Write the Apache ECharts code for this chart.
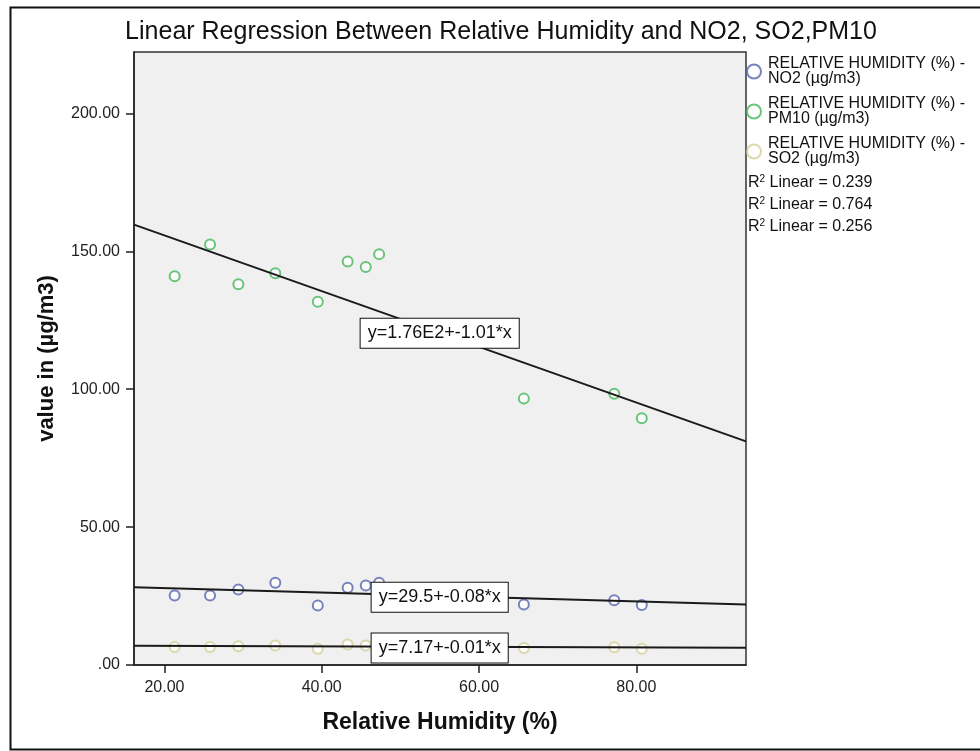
<!DOCTYPE html>
<html>
<head>
<meta charset="utf-8">
<script src="https://cdn.jsdelivr.net/npm/echarts@6/dist/echarts.min.js"></script>
<style>
  html, body { margin: 0; padding: 0; background: #ffffff; }
  #chart { width: 980px; height: 751px; }
</style>
</head>
<body>
<div id="chart"></div>
<script>
// Relative humidity (%) for each sampling day
const humidity = [21.3, 25.8, 29.4, 34.1, 39.5, 43.3, 45.6, 47.3, 65.7, 77.2, 80.7];
// Pollutant concentrations (µg/m3)
const no2  = [25.2, 25.2, 27.4, 29.8, 21.6, 28.0, 28.8, 29.8, 21.9, 23.5, 21.8];
const pm10 = [141.0, 152.5, 138.1, 142.1, 131.7, 146.3, 144.3, 149.0, 96.6, 98.4, 89.5];
const so2  = [6.5, 6.5, 6.8, 7.1, 5.9, 7.4, 7.1, 7.3, 6.2, 6.4, 5.9];

// Fitted linear models: [intercept, slope, label, R²]
const fitNO2  = [29.5, -0.08, 'y=29.5+-0.08*x', 0.239];
const fitPM10 = [176, -1.01, 'y=1.76E2+-1.01*x', 0.764];
const fitSO2  = [7.17, -0.01, 'y=7.17+-0.01*x', 0.256];

// Axis ticks
const xTicks = [20, 40, 60, 80];
const xTickLabels = ['20.00', '40.00', '60.00', '80.00'];
const yTicks = [0, 50, 100, 150, 200];
const yTickLabels = ['.00', '50.00', '100.00', '150.00', '200.00'];

const X_MIN = 16.13, X_MAX = 93.95, Y_MIN = 0, Y_MAX = 222.3;
const FONT = "'Liberation Sans', Arial, sans-serif";

const colors = { NO2: '#5864b0', PM10: '#45b85a', SO2: '#d3ce97' };

function pairs(xs, ys) { return xs.map((x, i) => [x, ys[i]]); }
function fitLine(fit) { return [[X_MIN, fit[0] + fit[1] * X_MIN], [X_MAX, fit[0] + fit[1] * X_MAX]]; }

const labelBox = {
  show: true, position: 'inside', color: '#111', fontFamily: FONT, fontSize: 18,
  backgroundColor: '#ffffff', borderColor: '#111', borderWidth: 1, padding: [6, 7, 5, 7]
};

function scatter(name, ys) {
  return {
    name, type: 'scatter', data: pairs(humidity, ys), symbol: 'emptyCircle', symbolSize: 10,
    itemStyle: { color: colors[name], borderColor: colors[name], borderWidth: 1.5 },
    z: 3
  };
}

function regLine(id, fit, labelX, labelY) {
  return {
    id, type: 'line', data: fitLine(fit), symbol: 'none', silent: true,
    lineStyle: { color: '#1a1a1a', width: 2 }, z: 4,
    markPoint: {
      symbol: 'rect', symbolSize: 0, silent: true,
      label: Object.assign({ formatter: fit[2] }, labelBox),
      data: [{ coord: [labelX, labelY] }]
    }
  };
}

const chart = echarts.init(document.getElementById('chart'));
chart.setOption({
  backgroundColor: '#ffffff',
  animation: false,
  textStyle: { fontFamily: FONT },
  title: {
    text: 'Linear Regression Between Relative Humidity and NO2, SO2,PM10',
    left: 501, top: 20, textAlign: 'center', padding: 0,
    textStyle: { fontFamily: FONT, fontSize: 25, fontWeight: 'normal', color: '#111' }
  },
  grid: {
    left: 134, top: 52, right: 234, bottom: 86,
    show: true, backgroundColor: '#f0f0f0', borderColor: '#333', borderWidth: 1.5
  },
  legend: {
    orient: 'vertical', left: 746, top: 56, padding: 0,
    itemWidth: 14, itemHeight: 14, itemGap: 9,
    data: ['NO2', 'PM10', 'SO2'],
    formatter: n => 'RELATIVE HUMIDITY (%) -\n' + n + ' (µg/m3)',
    textStyle: { fontFamily: FONT, fontSize: 16, lineHeight: 15, color: '#111', padding: [0, 0, 0, 2] }
  },
  xAxis: {
    type: 'value', min: X_MIN, max: X_MAX,
    name: 'Relative Humidity (%)', nameLocation: 'middle', nameGap: 46,
    nameTextStyle: { fontFamily: FONT, fontSize: 23, fontWeight: 'bold', color: '#111' },
    axisLine: { show: true, lineStyle: { color: '#222', width: 1.5 } },
    axisTick: { show: true, length: 8, customValues: xTicks, lineStyle: { color: '#222', width: 1.5 } },
    axisLabel: {
      customValues: xTicks, margin: 15, fontFamily: FONT, fontSize: 16, color: '#222',
      formatter: v => xTickLabels[xTicks.indexOf(v)] ?? ''
    },
    splitLine: { show: false }
  },
  yAxis: {
    type: 'value', min: Y_MIN, max: Y_MAX,
    name: 'value in (µg/m3)', nameLocation: 'middle', nameGap: 76,
    nameTextStyle: { fontFamily: FONT, fontSize: 22, fontWeight: 'bold', color: '#111' },
    axisLine: { show: true, lineStyle: { color: '#222', width: 1.5 } },
    axisTick: { show: true, length: 8, customValues: yTicks, lineStyle: { color: '#222', width: 1.5 } },
    axisLabel: {
      customValues: yTicks, margin: 14, fontFamily: FONT, fontSize: 16, color: '#222',
      formatter: v => yTickLabels[yTicks.indexOf(v)] ?? ''
    },
    splitLine: { show: false }
  },
  graphic: [
    { type: 'rect', left: 8, top: 5, silent: true,
      shape: { width: 1000, height: 742 },
      style: { fill: 'none', stroke: '#111', lineWidth: 2 } },
    ...[fitNO2, fitPM10, fitSO2].map((f, i) => ({
      type: 'text', left: 748, top: 174 + i * 22, silent: true,
      style: {
        text: '{r|R}{s|2}{t| Linear = ' + f[3].toFixed(3) + '}',
        rich: {
          r: { fontFamily: FONT, fontSize: 16, fill: '#111' },
          s: { fontFamily: FONT, fontSize: 10, fill: '#111', verticalAlign: 'top', padding: [0, 0, 7, 0] },
          t: { fontFamily: FONT, fontSize: 16, fill: '#111' }
        }
      }
    }))
  ],
  series: [
    scatter('NO2', no2),
    scatter('PM10', pm10),
    scatter('SO2', so2),
    regLine('fitPM10', fitPM10, 55, 120.3),
    regLine('fitNO2', fitNO2, 55, 24.6),
    regLine('fitSO2', fitSO2, 55, 6.2)
  ]
});
</script>
</body>
</html>
